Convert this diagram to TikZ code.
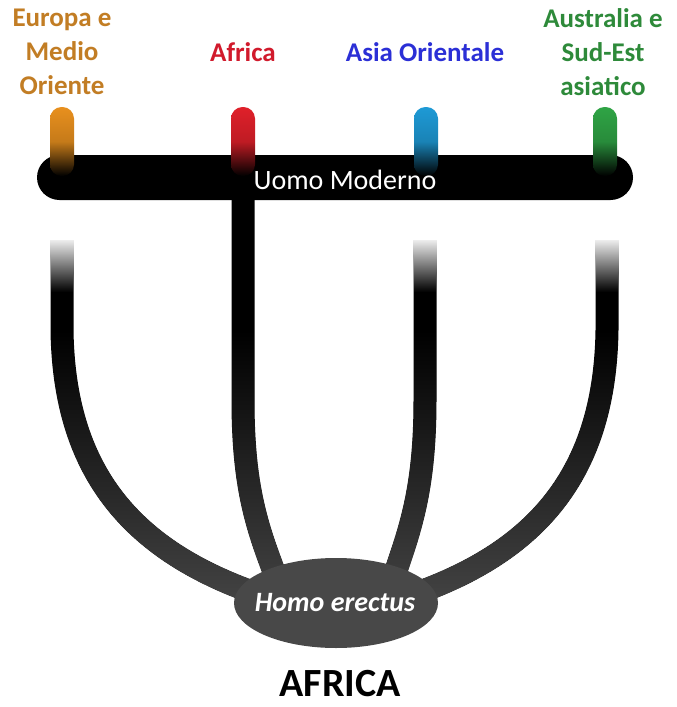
\documentclass[tikz,border=0pt]{standalone}
\usepackage{fontspec}
\setmainfont{Carlito}
\usetikzlibrary{shapes.geometric}
\definecolor{eurT}{HTML}{C27D24}
\definecolor{afrT}{HTML}{D11A2C}
\definecolor{asiT}{HTML}{2B2FD6}
\definecolor{ausT}{HTML}{2E8A3A}
\definecolor{eurP}{HTML}{E8901E}
\definecolor{afrP}{HTML}{E0202A}
\definecolor{asiP}{HTML}{1E9AD6}
\definecolor{ausP}{HTML}{2FA445}
\definecolor{erect}{HTML}{484848}
\begin{document}
\begin{tikzpicture}[x=1pt,y=-1pt,
  branch/.style={line width=23pt, draw=black},
  lbl/.style={font=\fontsize{27}{34}\selectfont\bfseries, align=center, inner sep=0pt},
  pillbox/.style={rounded corners=11.5pt},
  fadein/.style={top color=white, bottom color=black}
]
\fill[white] (0,0) rectangle (677,707);
\useasboundingbox (0,0) rectangle (677,707);

% branch coordinates
\coordinate (eurTop) at (62,240);
\coordinate (afrTop) at (243,195);
\coordinate (asiTop) at (425,240);
\coordinate (ausTop) at (607,240);
\coordinate (eurEnd) at (252,592);
\coordinate (afrEnd) at (278,582);
\coordinate (asiEnd) at (392,582);
\coordinate (ausEnd) at (420,592);

% branches
\draw[branch] (eurTop) -- (62,330) .. controls (64,470) and (130,548) .. (eurEnd);
\draw[branch] (afrTop) -- (243,400) .. controls (243,490) and (258,530) .. (afrEnd);
\draw[branch] (asiTop) -- (425,400) .. controls (425,490) and (410,530) .. (asiEnd);
\draw[branch] (ausTop) -- (607,330) .. controls (605,470) and (540,548) .. (ausEnd);

% gradients on branches
\begin{scope}[blend mode=lighten]
  \fill[top color=black, bottom color=black!70] (0,330) rectangle (677,640);
  \fill[fadein] (38,236) rectangle (86,292);
  \fill[fadein] (401,236) rectangle (449,292);
  \fill[fadein] (583,236) rectangle (631,292);
\end{scope}

% Uomo Moderno bar
\node[fill=black, rounded corners=22.5pt, minimum width=596pt, minimum height=45pt, inner sep=0pt] (uomo) at (335,177.5) {};

% pills
\shade[pillbox, top color=eurP, bottom color=black, middle color=eurP!85!black] (50,107) rectangle (74,176);
\shade[pillbox, top color=afrP, bottom color=black, middle color=afrP!85!black] (231,107) rectangle (255,176);
\shade[pillbox, top color=asiP, bottom color=black, middle color=asiP!85!black] (414,107) rectangle (438,176);
\shade[pillbox, top color=ausP, bottom color=black, middle color=ausP!85!black] (593,107) rectangle (617,176);

\node[text=white, font=\fontsize{28}{32}\selectfont, inner sep=0pt] (uomoLbl) at (345,180) {Uomo Moderno};

% region labels
\node[lbl, text=eurT] (eur) at (62,52) {Europa e\\Medio\\Oriente};
\node[lbl, text=afrT] (afr) at (243,52) {Africa};
\node[lbl, text=asiT] (asi) at (425,52) {Asia Orientale};
\node[lbl, text=ausT] (aus) at (603,52) {Australia e\\Sud-Est\\asiatico};

% Homo erectus
\node[ellipse, fill=erect, minimum width=204pt, minimum height=90pt, inner sep=0pt] (erectus) at (336,603) {};
\node[text=white, font=\fontsize{28}{32}\selectfont\bfseries\itshape, inner sep=0pt] (erectusLbl) at (335,603) {Homo erectus};

\node[font=\fontsize{40}{46}\selectfont\bfseries, inner sep=0pt] (africa) at (340,684) {AFRICA};
\end{tikzpicture}
\end{document}
